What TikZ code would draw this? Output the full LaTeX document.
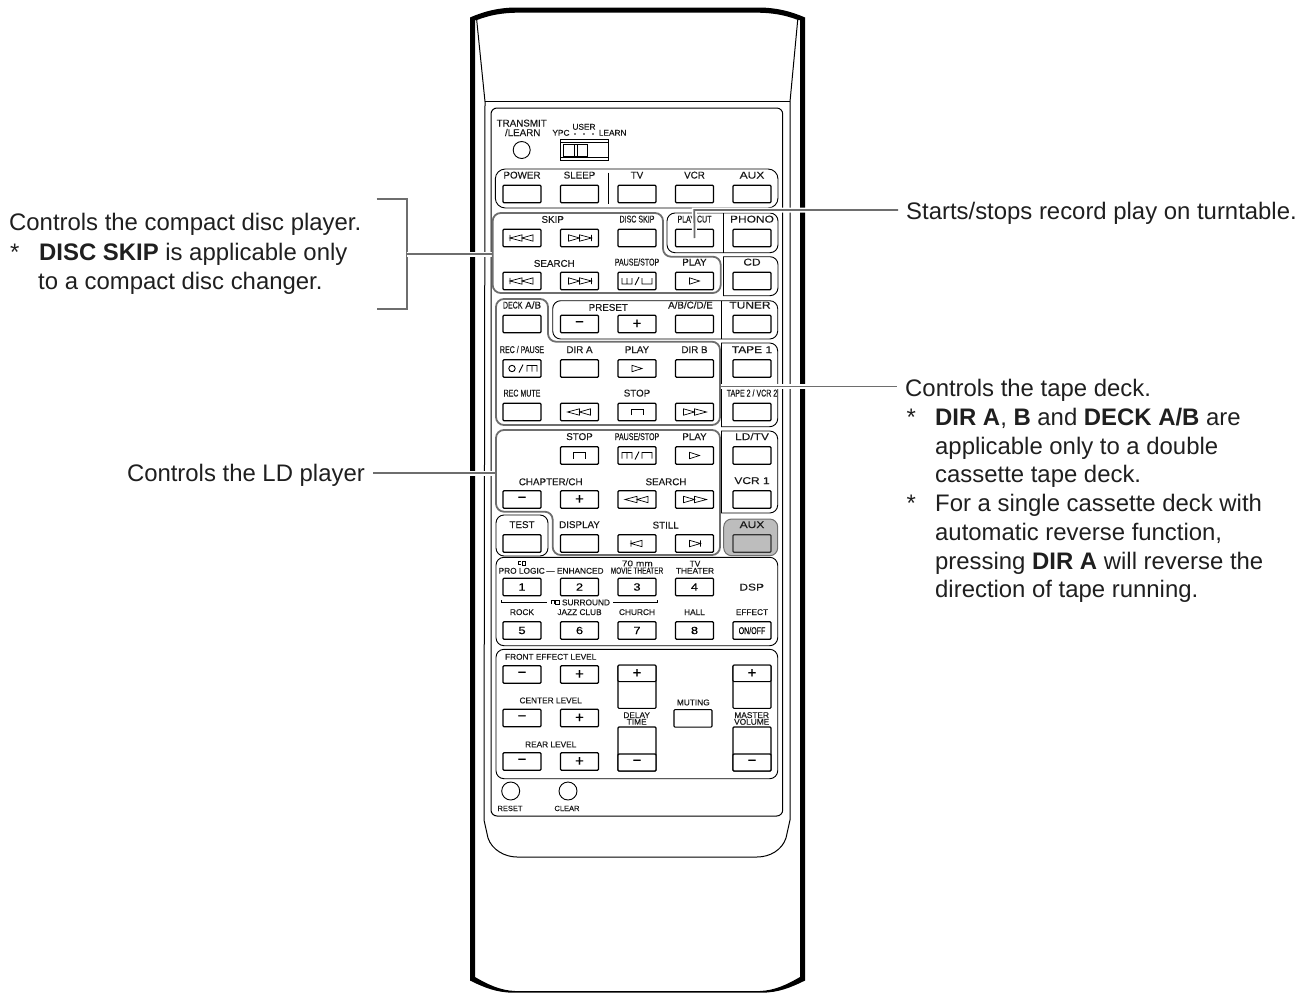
\documentclass[tikz,border=0pt]{standalone}
\usepackage{fontspec}
\setmainfont{Liberation Sans}
\newfontfamily\capfont[FakeBold=.25]{Liberation Sans}
\newfontfamily\narrowfont[FakeStretch=.72,FakeBold=.25]{Liberation Sans}
\newfontfamily\widefont[FakeStretch=1.22,FakeBold=.25]{Liberation Sans}
\usepackage{tikz}
\usetikzlibrary{positioning}
\definecolor{linegray}{HTML}{6E6E6E}
\definecolor{auxgray}{HTML}{BDBDBD}
\newcommand{\capsize}{\fontsize{9.8}{10}\selectfont}
\newcommand{\notesize}{\fontsize{23.9}{28}\selectfont}
\tikzset{
    ico/.style = {line width=.7pt, line join=miter},
    triL/.pic = {\draw[ico] (5,-3.2) -- (-5,0) -- (5,3.2) -- cycle;},
    triR/.pic = {\draw[ico] (-5,-3.2) -- (5,0) -- (-5,3.2) -- cycle;},
    skipL/.pic = {\draw[ico] (-12,-3.2) -- (-12,3.2) (-12,0) -- (0,-3.2) -- (0,3.2) -- cycle (0,0) -- (11,-3.2) -- (11,3.2) -- cycle;},
    skipR/.pic = {\draw[ico] (12,-3.2) -- (12,3.2) (12,0) -- (0,-3.2) -- (0,3.2) -- cycle (0,0) -- (-11,-3.2) -- (-11,3.2) -- cycle;},
    fastL/.pic = {\draw[ico] (-12,0) -- (0,-3.2) -- (0,3.2) -- cycle (0,0) -- (11,-3.2) -- (11,3.2) -- cycle;},
    fastR/.pic = {\draw[ico] (12,0) -- (0,-3.2) -- (0,3.2) -- cycle (0,0) -- (-11,-3.2) -- (-11,3.2) -- cycle;},
    stillL/.pic = {\draw[ico] (-6,-3.2) -- (-6,3.2) (-6,0) -- (5,-3.2) -- (5,3.2) -- cycle;},
    stillR/.pic = {\draw[ico] (6,-3.2) -- (6,3.2) (6,0) -- (-5,-3.2) -- (-5,3.2) -- cycle;},
    stopico/.pic = {\draw[ico, line width=.9pt] (-6,3) -- (-6,-3) -- (6,-3) -- (6,3);},
    pauseU/.pic = {\draw[ico, line width=.9pt] (-15,-3) -- (-15,3) -- (-5,3) -- (-5,-3) (-10,-3) -- (-10,3) (-2,4) -- (2,-4) (5,-3) -- (5,3) -- (15,3) -- (15,-3);},
    pauseD/.pic = {\draw[ico, line width=.9pt] (-15,3) -- (-15,-3) -- (-5,-3) -- (-5,3) (-10,3) -- (-10,-3) (-2,4) -- (2,-4) (5,3) -- (5,-3) -- (15,-3) -- (15,3);},
    recico/.pic = {\draw[ico, line width=.9pt] (-10,0) circle (3.2) (-3,4) -- (1,-4) (5,3) -- (5,-3) -- (15,-3) -- (15,3) (10,3) -- (10,-3);},
    ddlogo/.pic = {\fill (-4,-2) rectangle (-.3,2); \fill[white] (-3,-1.2) rectangle (-1.2,1.2); \draw[line width=.5pt] (.3,-2) rectangle (4,2);}
}
\begin{document}
\begin{tikzpicture}[
        x=1pt, y=-1pt,
        btn/.style   = {draw, fill=white, rounded corners=1pt, line width=1.1pt, minimum width=38pt, minimum height=17.5pt, inner sep=0pt, font=\widefont\fontsize{10.5}{11}\selectfont},
        sgn/.style   = {btn, font=\capfont\fontsize{15}{15}\selectfont},
        lbl/.style   = {inner sep=0pt, text height=7pt, text depth=0pt, text=black!90, font=\capfont\capsize},
        lbln/.style  = {lbl, font=\narrowfont\capsize},
        lblw/.style  = {lbl, font=\widefont\capsize},
        lbls/.style  = {lbl, font=\capfont\fontsize{8.3}{9}\selectfont, text height=6pt},
        lblsw/.style = {lbls, font=\widefont\fontsize{8.3}{9}\selectfont},
        lblsn/.style = {lbls, font=\narrowfont\fontsize{9}{9}\selectfont},
        knob/.style  = {draw, circle, line width=.9pt, minimum size=17pt, inner sep=0pt},
        panel/.style = {draw, line width=.9pt, rounded corners=6pt},
        zone/.style  = {draw=linegray, line width=1.8pt, rounded corners=8pt},
        note/.style  = {font=\notesize, text=black!88, inner xsep=8pt, inner ysep=0pt, text height=15pt, text depth=4pt},
        notel/.style = {note, inner xsep=0pt},
        aster/.style = {font=\notesize, text=black!88, inner sep=0pt, text height=15pt, text depth=4pt},
        conn/.style  = {draw=linegray, line width=1.8pt, preaction={draw=white, line width=5pt}},
        node distance = 6pt
    ]
    \useasboundingbox (0,0) rectangle (1312,993);
    % body
    \fill[even odd rule] (470,17.5) .. controls (485,11) and (498,8) .. (514,7.5) -- (761,7.5) .. controls (777,8) and (790,11) .. (805,17.5) -- (805,980.5) .. controls (790,988) and (778,992.5) .. (762,992.7) -- (513,992.7) .. controls (497,992.5) and (485,988) .. (470,980.5) -- cycle
        (477,20) .. controls (490,15) and (502,13) .. (516,12.7) -- (759,12.7) .. controls (773,13) and (785,15) .. (798,20) -- (800,20) -- (800,977) .. controls (788,984) and (775,990.5) .. (760,991) -- (515,991) .. controls (500,990.5) and (487,984) .. (475,977) -- (475,20) -- cycle;
    \draw[line width=1pt] (476.7,20) -- (485,101.7) -- (484,820) -- (488,838) .. controls (492,850) and (505,857) .. (517,857) -- (757,857) .. controls (770,857) and (782,850) .. (786,838) -- (790,820) -- (790,101.7) -- (797.7,20);
    \draw[line width=1pt] (485,101.7) -- (790,101.7);
    \draw[panel, line width=1pt] (491,108) rectangle (782.7,816);
    % panels
    \draw[panel, rounded corners=10pt] (495.3,169) rectangle (778,208);
    \draw[line width=1pt] (608,172.7) -- (608,204);
    \draw[panel, rounded corners=8pt] (667,213) rectangle (778,252.7);
    \draw[line width=.9pt] (723,213) -- (723,252.7);
    \draw[panel, rounded corners=8pt] (723,256.7) -- (778,256.7) -- (778,295.7) -- (723,295.7);
    \draw[line width=.9pt] (723,256.7) -- (723,295.7);
    \draw[panel, rounded corners=8pt] (552.7,300.7) rectangle (777.7,339);
    \draw[line width=.9pt] (721,300.7) -- (721,339);
    \draw[panel, rounded corners=8pt] (721,343) -- (777.7,343) -- (777.7,426.7) -- (721,426.7);
    \draw[line width=.9pt] (721,343) -- (721,426.7);
    \draw[panel, rounded corners=8pt] (721,431) -- (777.7,431) -- (777.7,513) -- (721,513);
    \draw[line width=.9pt] (721,431) -- (721,513);
    \draw[panel, rounded corners=8pt] (496,515) rectangle (548,556);
    \draw[draw=linegray, fill=auxgray, line width=1pt, rounded corners=8pt] (723.7,519) rectangle (777.7,555.7);
    \draw[panel, rounded corners=8pt] (496,557.3) rectangle (777.7,645.7);
    \draw[panel, rounded corners=8pt] (496,649.3) rectangle (777.7,778.7);
    % top
    \node[knob] (transmit) at (521.7,150) {};
    \node[lbl] (transmitcap) at (521.7,123) {TRANSMIT};
    \node[lbl] (learncap) at (522.7,132.5) {/LEARN};
    \node[lbls] (ypc) at (561,132.7) {YPC};
    \node[lbls] (user) at (584,126.7) {USER};
    \node[lbls] (learn) at (612.7,132.7) {LEARN};
    \foreach \x in {575,584,593} \fill (\x,134) circle (.9);
    \draw[line width=.8pt] (560,139.5) rectangle (608.3,160);
    \draw[line width=1pt] (560,142.7) -- (608.3,142.7) (560,157.3) -- (608.3,157.3);
    \draw[line width=.9pt, fill=white] (563,144.3) rectangle (587,156);
    \draw[line width=.8pt] (574.5,144.3) -- (574.5,156) (577,144.3) -- (577,156);
    % power row
    \node[btn] (power) at (522,194) {};   \node[lbl, above=of power] (powercap) {POWER};
    \node[btn] (sleep) at (579.5,194) {}; \node[lbl, above=of sleep] (sleepcap) {SLEEP};
    \node[btn] (tv)    at (637,194) {};   \node[lbl, above=of tv]    (tvcap)    {TV};
    \node[btn] (vcr)   at (694.5,194) {}; \node[lbl, above=of vcr]   (vcrcap)   {VCR};
    \node[btn] (aux)   at (752,194) {};   \node[lblw, above=of aux]  (auxcap)   {AUX};
    % disc
    \node[lbl] (skipcap) at (552.7,219.3) {SKIP};
    \node[btn] (skipb)  at (522,238) {};   \pic at (skipb) {skipL};
    \node[btn] (skipf)  at (579.5,238) {}; \pic at (skipf) {skipR};
    \node[btn] (dskip)  at (637,238) {};   \node[lbln, above=of dskip] (dskipcap) {DISC SKIP};
    \node[btn] (pcut)   at (694.5,238) {}; \node[lbln, above=of pcut] (pcutcap) {PLAY/CUT};
    \node[btn] (phono)  at (752,238) {};   \node[lblw, above=of phono] (phonocap) {PHONO};
    \node[lbl] (searchcap) at (554.3,263.3) {SEARCH};
    \node[btn] (srchb)  at (522,281) {};   \pic at (srchb) {skipL};
    \node[btn] (srchf)  at (579.5,281) {}; \pic at (srchf) {skipR};
    \node[btn] (dpause) at (637,281) {};   \pic at (dpause) {pauseU}; \node[lbln, above=of dpause] (dpausecap) {PAUSE/STOP};
    \node[btn] (dplay)  at (694.5,281) {}; \pic at (dplay) {triR}; \node[lbl, above=of dplay] (dplaycap) {PLAY};
    \node[btn] (cd)     at (752,281) {};   \node[lblw, above=of cd] (cdcap) {CD};
    % tape
    \node[btn] (deck)   at (522,324) {};   \node[lbl, above=of deck] (deckcap) {{\narrowfont DECK} A/B};
    \node[sgn] (pminus) at (579.5,324) {\textminus};
    \node[sgn] (pplus)  at (637,324) {+};
    \node[btn] (abcde)  at (694.5,324) {}; \node[lbl, above=of abcde, xshift=-4pt] (abcdecap) {A/B/C/D/E};
    \node[btn] (tuner)  at (752,324) {};   \node[lblw, above=of tuner, xshift=-2pt] (tunercap) {TUNER};
    \node[lbl] (presetcap) at (608.3,307.3) {PRESET};
    \node[btn] (rec)    at (522,368.5) {}; \pic at (rec) {recico}; \node[lbln, above=of rec] (reccap) {REC / PAUSE};
    \node[btn] (dira)   at (579.5,368.5) {}; \node[lbl, above=of dira] (diracap) {DIR A};
    \node[btn] (tplay)  at (637,368.5) {}; \pic at (tplay) {triR}; \node[lbl, above=of tplay] (tplaycap) {PLAY};
    \node[btn] (dirb)   at (694.5,368.5) {}; \node[lbl, above=of dirb] (dirbcap) {DIR B};
    \node[btn] (tape)   at (752,368.5) {}; \node[lblw, above=of tape] (tapecap) {TAPE 1};
    \node[btn] (mute)   at (522,412) {};   \node[lbln, above=of mute] (mutecap) {REC MUTE};
    \node[btn] (trew)   at (579.5,412) {}; \pic at (trew) {fastL};
    \node[btn] (tstop)  at (637,412) {};   \pic at (tstop) {stopico}; \node[lbl, above=of tstop] (tstopcap) {STOP};
    \node[btn] (tff)    at (694.5,412) {}; \pic at (tff) {fastR};
    \node[btn] (tvcr)   at (752,412) {};   \node[lbln, above=of tvcr] (tvcrcap) {TAPE 2 / VCR 2};
    % ld
    \node[btn] (lstop)  at (579.5,455.5) {}; \pic at (lstop) {stopico}; \node[lbl, above=of lstop] (lstopcap) {STOP};
    \node[btn] (lpause) at (637,455.5) {};   \pic at (lpause) {pauseD}; \node[lbln, above=of lpause] (lpausecap) {PAUSE/STOP};
    \node[btn] (lplay)  at (694.5,455.5) {}; \pic at (lplay) {triR}; \node[lbl, above=of lplay] (lplaycap) {PLAY};
    \node[btn] (ldtv)   at (752,455.5) {};   \node[lblw, above=of ldtv] (ldtvcap) {LD/TV};
    \node[lbl] (chapcap) at (550.7,481.7) {CHAPTER/CH};
    \node[lbl] (lsearchcap) at (666,481.7) {SEARCH};
    \node[sgn] (chm)    at (522,499.5) {\textminus};
    \node[sgn] (chp)    at (579.5,499.5) {+};
    \node[btn] (lrew)   at (637,499.5) {};   \pic at (lrew) {fastL};
    \node[btn] (lff)    at (694.5,499.5) {}; \pic at (lff) {fastR};
    \node[btn] (vcrone) at (752,499.5) {};   \node[lblw, above=of vcrone] (vcronecap) {VCR 1};
    \node[btn] (test)   at (522,543.5) {};   \node[lbl, above=of test] (testcap) {TEST};
    \node[btn] (disp)   at (579.5,543.5) {}; \node[lbl, above=of disp] (dispcap) {DISPLAY};
    \node[btn] (stillb) at (637,543.5) {};   \pic at (stillb) {stillL};
    \node[btn] (stillf) at (694.5,543.5) {}; \pic at (stillf) {stillR};
    \node[lbl] (stillcap) at (665.7,525) {STILL};
    \node[btn, fill=auxgray, draw=black!80] (auxb) at (752,543.5) {}; \node[lblw, above=of auxb] (auxbcap) {AUX};
    % dsp
    \pic at (521.7,563) {ddlogo};
    \node[lbls] (prologic) at (521.7,570.7) {PRO LOGIC};
    \node[lbls] (enhanced) at (575,570.7) {\textemdash\ ENHANCED};
    \node[lblsw] (seventy) at (637.3,563.3) {70 mm};
    \node[lblsn] (movie) at (637,570.7) {MOVIE THEATER};
    \node[lbls] (tvt) at (695,563.5) {TV};
    \node[lbls] (theater) at (695,570.7) {THEATER};
    \node[btn] (one)   at (522,587) {1};
    \node[btn] (two)   at (579.5,587) {2};
    \node[btn] (three) at (637,587) {3};
    \node[btn] (four)  at (694.5,587) {4};
    \node[lblw] (dsp) at (751.7,587) {DSP};
    \draw[line width=.6pt] (501,600) -- (501,602.3) -- (546.7,602.3) (613.3,602.3) -- (657.7,602.3) -- (657.7,600);
    \pic at (555,602.3) {ddlogo};
    \node[lbls] (surround) at (586,602.3) {SURROUND};
    \node[btn] (five)  at (522,630.5) {5};     \node[lbls, above=of five] (rockcap) {ROCK};
    \node[btn] (six)   at (579.5,630.5) {6};   \node[lbls, above=of six] (jazzcap) {JAZZ CLUB};
    \node[btn] (seven) at (637,630.5) {7};     \node[lbls, above=of seven] (churchcap) {CHURCH};
    \node[btn] (eight) at (694.5,630.5) {8};   \node[lbls, above=of eight] (hallcap) {HALL};
    \node[btn, font=\narrowfont\capsize] (onoff) at (752,630.5) {ON/OFF}; \node[lbls, above=of onoff] (effectcap) {EFFECT};
    % levels
    \node[lbls] (frontcap) at (550.7,656.7) {FRONT EFFECT LEVEL};
    \node[sgn] (fm) at (522,674.5) {\textminus};
    \node[sgn] (fp) at (579.5,674.5) {+};
    \node[lbls] (centercap) at (550.7,700.3) {CENTER LEVEL};
    \node[sgn] (cm) at (522,718) {\textminus};
    \node[sgn] (cp) at (579.5,718) {+};
    \node[lbls] (rearcap) at (550.7,744.3) {REAR LEVEL};
    \node[sgn] (rm) at (522,761.5) {\textminus};
    \node[sgn] (rp) at (579.5,761.5) {+};
    \node[btn, minimum height=43.3pt] (dup) at (637,686.7) {};
    \node[sgn, minimum height=16.5pt] (dupp) at (637,673.4) {+};
    \node[btn, minimum height=44pt] (ddn) at (637,749) {};
    \node[sgn, minimum height=17pt] (ddnm) at (637,762.5) {\textminus};
    \node[lbls] (delay) at (636.7,715) {DELAY};
    \node[lbls] (timecap) at (636.7,721.7) {TIME};
    \node[btn] (muting) at (693,718.3) {};
    \node[lbls] (mutingcap) at (693.3,702.3) {MUTING};
    \node[btn, minimum height=43.3pt] (mup) at (752,686.7) {};
    \node[sgn, minimum height=16.5pt] (mupp) at (752,673.4) {+};
    \node[btn, minimum height=44pt] (mdn) at (752,749) {};
    \node[sgn, minimum height=17pt] (mdnm) at (752,762.5) {\textminus};
    \node[lbls] (master) at (751.7,715) {MASTER};
    \node[lbls] (volume) at (751.7,721.7) {VOLUME};
    % bottom
    \node[knob, minimum size=18pt] (reset) at (510.7,791) {};
    \node[lbls, font=\capfont\fontsize{7.5}{8}\selectfont] (resetcap) at (510,808) {RESET};
    \node[knob, minimum size=18pt] (clear) at (568,791) {};
    \node[lbls, font=\capfont\fontsize{7.5}{8}\selectfont] (clearcap) at (567,808) {CLEAR};
    % notes
    \node[notel, anchor=west] (cdnote) at (9,225.2) {Controls the compact disc player.};
    \node[aster, anchor=west] (cdstar) at (10,254.5) {*};
    \node[notel, anchor=west] (cdskip) at (39,254.5) {\textbf{DISC SKIP} is applicable only};
    \node[notel, anchor=west] (cdchg) at (38,283.5) {to a compact disc changer.};
    \coordinate (cdtop) at (376.7,199.3);
    \coordinate (cdbot) at (376.7,309.3);
    \coordinate (cdmid) at (406.7,254.3);
    \coordinate (cdzone) at (492.7,254.3);
    \draw[draw=linegray, line width=1.8pt] (cdtop) -- (406.7,199.3) -- (406.7,309.3) -- (cdbot);
    \draw[conn] (cdmid) -- (cdzone);
    \node[note, anchor=east] (ldnote) at (373,475.5) {Controls the LD player};
    \coordinate (ldzone) at (496,473.3);
    \draw[conn] (ldzone) -- (ldzone -| ldnote.east);
    \node[note, anchor=west] (pcnote) at (898,213.8) {Starts/stops record play on turntable.};
    \coordinate (pcturn) at (694.3,210);
    \draw[conn] (pcut.center) -- (pcturn) -- (pcturn -| pcnote.west);
    \node[note, anchor=west] (tapenote) at (897,390.5) {Controls the tape deck.};
    \coordinate (tapezone) at (720,386.5);
    \draw[conn] (tapezone) -- (tapezone -| tapenote.west);
    \node[aster, anchor=west] (tapestara) at (906.5,419.5) {*};
    \node[notel, anchor=west] (tapea) at (935,419.5) {\textbf{DIR A}, \textbf{B} and \textbf{DECK A/B} are};
    \node[notel, anchor=west] (tapeb) at (935,448.5) {applicable only to a double};
    \node[notel, anchor=west] (tapec) at (935,477.2) {cassette tape deck.};
    \node[aster, anchor=west] (tapestarb) at (906.5,506.2) {*};
    \node[notel, anchor=west] (taped) at (935,506.2) {For a single cassette deck with};
    \node[notel, anchor=west] (tapee) at (935,534.5) {automatic reverse function,};
    \node[notel, anchor=west] (tapef) at (935,563.5) {pressing \textbf{DIR A} will reverse the};
    \node[notel, anchor=west] (tapeg) at (935,592.2) {direction of tape running.};
    % zones
    \draw[zone] (492.7,213) -- (663,213) -- (663,256.7) -- (720.7,256.7) -- (720.7,293) -- (492.7,293) -- cycle;
    \draw[zone] (496,299) -- (548,299) -- (548,341.7) -- (720,341.7) -- (720,425) -- (496,425) -- cycle;
    \draw[zone] (496,430) -- (720,430) -- (720,555) -- (552.7,555) -- (552.7,511.7) -- (496,511.7) -- cycle;
\end{tikzpicture}
\end{document}
